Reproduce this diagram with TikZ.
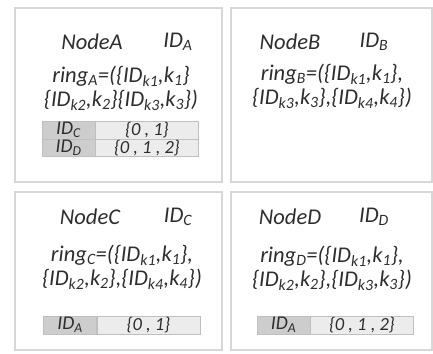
\documentclass[tikz,border=0pt]{standalone}
\usepackage{fontspec}
\setmainfont{Carlito}
\usetikzlibrary{positioning}
\definecolor{txtgray}{RGB}{45,45,45}
\definecolor{edgegray}{RGB}{215,215,215}
\definecolor{keyfill}{RGB}{205,205,205}
\definecolor{valfill}{RGB}{236,236,236}
\newcommand{\lo}[1]{\textsubscript{#1}}
\tikzset{
  panel/.style={draw=edgegray,line width=1.6pt},
  lbl/.style={text=txtgray,font=\itshape\fontsize{22.5}{24}\selectfont,inner sep=0pt},
  ringtxt/.style={lbl,align=center},
  keycell/.style={draw=black!25,fill=keyfill,minimum width=53pt,minimum height=17.5pt,inner sep=0pt,text=txtgray,font=\itshape\fontsize{19.5}{20}\selectfont},
  valcell/.style={keycell,fill=valfill,minimum width=103pt,font=\itshape\fontsize{18.5}{19}\selectfont}
}
\begin{document}
\begin{tikzpicture}[x=1pt,y=-1pt]
\useasboundingbox (0,0) rectangle (433,353);
% panels
\draw[panel] (15,8) rectangle (222,182);
\draw[panel] (231,8) rectangle (432,182);
\draw[panel] (15,192) rectangle (222,350);
\draw[panel] (231,192) rectangle (432,350);

% node A
\node (nA) at (92,42) [lbl] {NodeA};
\node (idA) at (178,42) [lbl] {ID\lo{A}};
\node (rA) at (121,88) [ringtxt] {ring\lo{A}=(\{ID\lo{k1},k\lo{1}\}\\\{ID\lo{k2},k\lo{2}\}\{ID\lo{k3},k\lo{3}\})};
\node (kA1) at (68.5,130) [keycell] {ID\lo{C}};
\node (vA1) [valcell,right=0pt of kA1] {\{0 , 1\}};
\node (kA2) [keycell,below=0pt of kA1] {ID\lo{D}};
\node (vA2) [valcell,right=0pt of kA2] {\{0 , 1 , 2\}};

% node B
\node (nB) at (290,42) [lbl] {NodeB};
\node (idB) at (374,42) [lbl] {ID\lo{B}};
\node (rB) at (332,86) [ringtxt] {ring\lo{B}=(\{ID\lo{k1},k\lo{1}\},\\\{ID\lo{k3},k\lo{3}\},\{ID\lo{k4},k\lo{4}\})};

% node C
\node (nC) at (90,217) [lbl] {NodeC};
\node (idC) at (178,217) [lbl] {ID\lo{C}};
\node (rC) at (122,267) [ringtxt] {ring\lo{C}=(\{ID\lo{k1},k\lo{1}\},\\\{ID\lo{k2},k\lo{2}\},\{ID\lo{k4},k\lo{4}\})};
\node (kC1) at (70,325) [keycell] {ID\lo{A}};
\node (vC1) [valcell,right=0pt of kC1] {\{0 , 1\}};

% node D
\node (nD) at (290,217) [lbl] {NodeD};
\node (idD) at (374,217) [lbl] {ID\lo{D}};
\node (rD) at (332,268) [ringtxt] {ring\lo{D}=(\{ID\lo{k1},k\lo{1}\},\\\{ID\lo{k2},k\lo{2}\},\{ID\lo{k3},k\lo{3}\})};
\node (kD1) at (283.5,325) [keycell] {ID\lo{A}};
\node (vD1) [valcell,right=0pt of kD1] {\{0 , 1 , 2\}};
\end{tikzpicture}
\end{document}
